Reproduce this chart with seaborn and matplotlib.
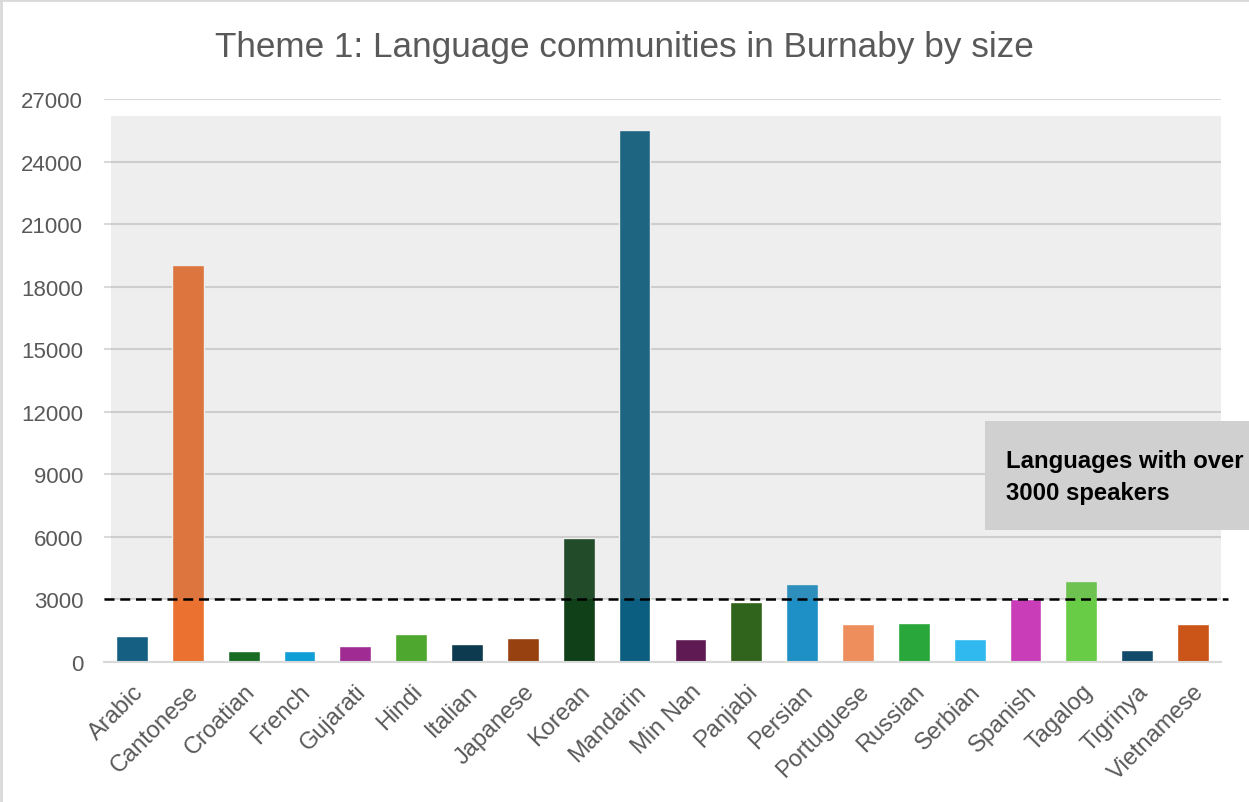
import numpy as np
import pandas as pd
import matplotlib
matplotlib.use("Agg")
import matplotlib.pyplot as plt
import seaborn as sb
from matplotlib.patches import Rectangle
from matplotlib.lines import Line2D

# data
languages = ['Arabic', 'Cantonese', 'Croatian', 'French', 'Gujarati', 'Hindi', 'Italian',
             'Japanese', 'Korean', 'Mandarin', 'Min Nan', 'Panjabi', 'Persian', 'Portuguese',
             'Russian', 'Serbian', 'Spanish', 'Tagalog', 'Tigrinya', 'Vietnamese']
speakers = [1250, 19040, 530, 530, 770, 1340, 860, 1150, 5950, 25520,
            1100, 2880, 3740, 1820, 1870, 1100, 3030, 3885, 575, 1820]
bar_colors = ['#156082', '#EA7130', '#196B24', '#0F9ED5', '#A02B93', '#4EA72E', '#0D3A4E',
              '#974010', '#0F4018', '#0B5E80', '#5F1A53', '#30631C', '#1F90C5', '#ED8E5C',
              '#29A73A', '#2FB9EF', '#C93DB8', '#68CC46', '#124B6A', '#CB5418']
y_ticks = [0, 3000, 6000, 9000, 12000, 15000, 18000, 21000, 24000, 27000]
threshold = 3000
box_top = 26190
note = 'Languages with over\n3000 speakers'
title = 'Theme 1: Language communities in Burnaby by size'

df = pd.DataFrame({'language': languages, 'speakers': speakers})

sb.set_style('white')
plt.rcParams['font.family'] = ['Liberation Sans', 'DejaVu Sans']

fig = plt.figure(figsize=(12.49, 8.03), dpi=100)
ax = fig.add_axes([104 / 1249, 1 - 663 / 803, (1221 - 104) / 1249, (663 - 100) / 803])

sb.barplot(data=df, x='language', y='speakers', hue='language', palette=bar_colors,
           legend=False, width=0.57, saturation=1, ax=ax, zorder=2)

ax.set_ylim(0, 27000)
ax.set_xlim(-0.5, len(languages) - 0.5)
ax.set_yticks(y_ticks)
ax.set_yticklabels([str(t) for t in y_ticks])
ax.yaxis.grid(True, color='#D9D9D9', linewidth=1.5)
ax.set_axisbelow(True)
ax.set_xlabel('')
ax.set_ylabel('')
for side in ['top', 'right', 'left']:
    ax.spines[side].set_visible(False)
ax.spines['bottom'].set_color('#D9D9D9')
ax.spines['bottom'].set_linewidth(1.5)
ax.tick_params(axis='y', length=0, pad=15, labelsize=16, labelcolor='#595959')
ax.tick_params(axis='x', length=0, pad=13, labelsize=17, labelcolor='#595959')
plt.setp(ax.get_xticklabels(), rotation=45, ha='right', va='top', rotation_mode='anchor')

# translucent grey panel over the region above the threshold
ax.add_patch(Rectangle((-0.375, threshold), len(languages) - 0.125, box_top - threshold,
                       facecolor='#8F8F8F', alpha=0.15, edgecolor='none', zorder=3))
ax.axhline(threshold, xmin=0, xmax=1.006, color='black', linewidth=1.8,
           linestyle=(0, (4, 2.3)), zorder=4, clip_on=False)

# note box on the right
fig.patches.append(Rectangle((985 / 1249, 1 - 531 / 803), 300 / 1249, 109 / 803,
                             transform=fig.transFigure, facecolor='#D0D0D0',
                             edgecolor='none', zorder=5))
fig.text(1006 / 1249, 1 - 478 / 803, note, fontsize=17.2, fontweight='bold',
         color='black', va='center', ha='left', linespacing=1.5, zorder=6)

fig.suptitle(title, x=0.5, y=1 - 47 / 803, va='center', fontsize=25.3, color='#595959')

# chart border on the visible edges
fig.add_artist(Line2D([0.001, 0.001], [0, 1], color='#D9D9D9', linewidth=2,
                      transform=fig.transFigure))
fig.add_artist(Line2D([0, 1], [0.999, 0.999], color='#D9D9D9', linewidth=2,
                      transform=fig.transFigure))

fig.savefig('out.png', dpi=100)
